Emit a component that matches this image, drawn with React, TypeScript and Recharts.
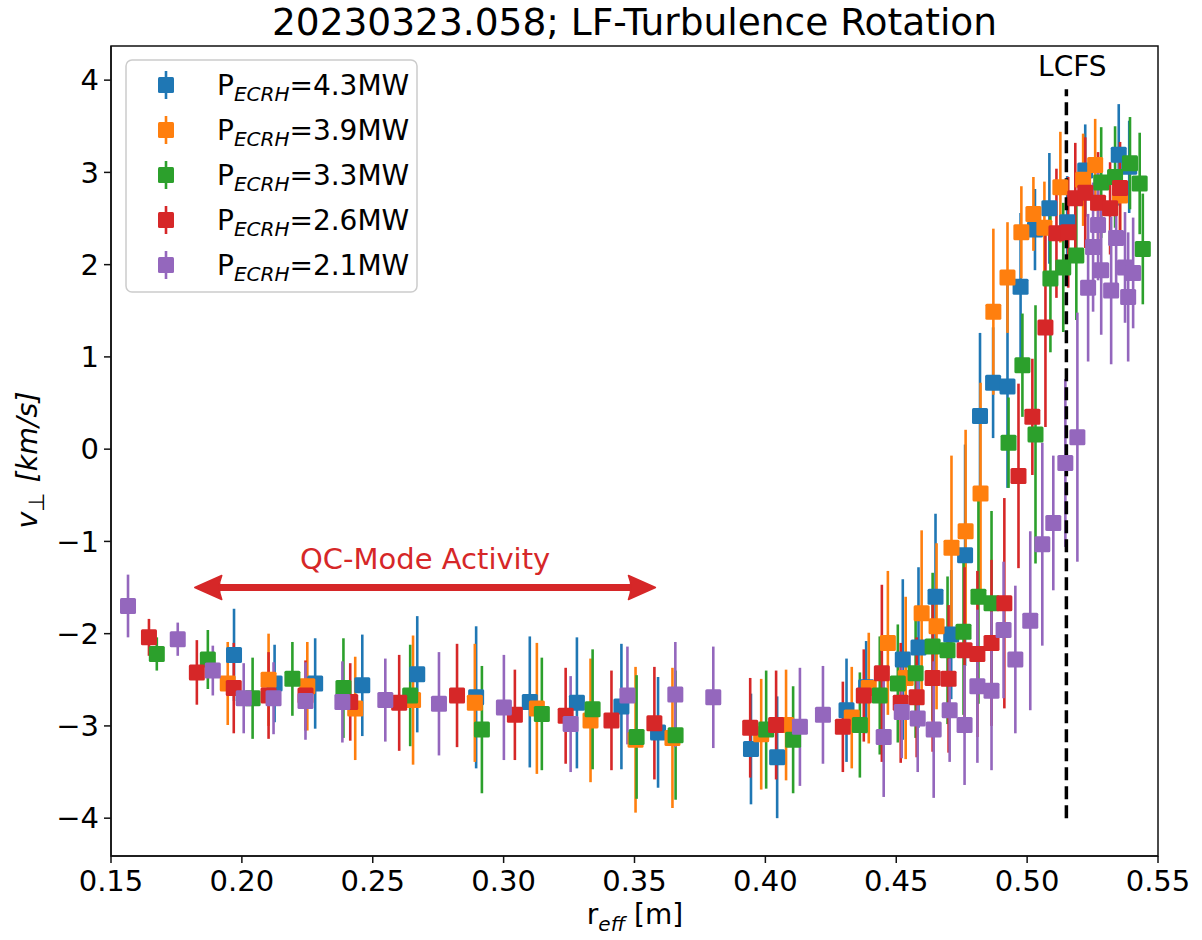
import React from 'react';
import { ScatterChart, Scatter, XAxis, YAxis, ErrorBar, ReferenceLine, ReferenceArea } from 'recharts';

const FONT = "'DejaVu Sans', sans-serif";

// ---- data (r_eff [m], v_perp [km/s], error [km/s]) ----
const blueX = [0.197, 0.2125, 0.228, 0.246, 0.267, 0.2895, 0.31, 0.328, 0.345, 0.359, 0.3945, 0.4045, 0.431, 0.4385, 0.4525, 0.4585, 0.465, 0.471, 0.4763, 0.482, 0.487, 0.4925, 0.4975, 0.503, 0.5085, 0.5153, 0.5222, 0.535, 0.539];
const blueY = [-2.23, -2.54, -2.54, -2.56, -2.44, -2.69, -2.74, -2.75, -2.79, -3.07, -3.25, -3.34, -2.83, -2.58, -2.28, -2.15, -1.6, -2.01, -1.15, 0.36, 0.72, 0.68, 1.76, 2.38, 2.61, 2.46, 3.02, 3.19, 3.06];
const blueE = [0.5, 0.42, 0.49, 0.55, 0.63, 0.77, 0.71, 0.71, 0.68, 0.6, 0.6, 0.66, 0.56, 0.5, 0.87, 0.87, 0.9, 0.7, 1.2, 0.9, 0.6, 1.1, 0.8, 0.44, 0.6, 0.5, 0.5, 0.55, 0.5];

const orangeX = [0.1946, 0.2102, 0.225, 0.2433, 0.2654, 0.289, 0.3127, 0.3332, 0.3504, 0.3645, 0.3984, 0.4079, 0.433, 0.4395, 0.4468, 0.4536, 0.4597, 0.4654, 0.4711, 0.4765, 0.4822, 0.4871, 0.4925, 0.4978, 0.5024, 0.5066, 0.5127, 0.5214, 0.526, 0.5355];
const orangeY = [-2.54, -2.5, -2.57, -2.81, -2.72, -2.75, -2.81, -2.94, -3.15, -3.13, -3.09, -2.99, -2.91, -2.59, -2.1, -2.48, -1.78, -1.92, -1.07, -0.89, -0.48, 1.49, 1.86, 2.35, 2.55, 2.4, 2.84, 2.92, 3.08, 2.75];
const orangeE = [0.45, 0.5, 0.48, 0.56, 0.7, 0.64, 0.71, 0.67, 0.79, 0.76, 0.6, 0.6, 0.55, 0.6, 0.78, 0.88, 0.9, 0.9, 1.0, 1.1, 1.2, 0.9, 0.6, 0.5, 0.4, 0.5, 0.6, 0.5, 0.5, 0.5];

const greenX = [0.1675, 0.187, 0.2041, 0.2193, 0.2388, 0.2643, 0.2917, 0.3146, 0.334, 0.3508, 0.3657, 0.4003, 0.4106, 0.4361, 0.4437, 0.4506, 0.4574, 0.4639, 0.4696, 0.4757, 0.4814, 0.4864, 0.4929, 0.4982, 0.5032, 0.5089, 0.5138, 0.5188, 0.5283, 0.5336, 0.5393, 0.543, 0.5442];
const greenY = [-2.22, -2.28, -2.7, -2.49, -2.59, -2.67, -3.04, -2.87, -2.82, -3.12, -3.1, -3.04, -3.15, -2.99, -2.67, -2.54, -2.43, -2.14, -2.18, -1.98, -1.6, -1.67, 0.07, 0.91, 0.16, 1.85, 1.97, 2.1, 2.89, 2.95, 3.1, 2.88, 2.17];
const greenE = [0.18, 0.32, 0.44, 0.4, 0.54, 0.55, 0.69, 0.61, 0.65, 0.67, 0.7, 0.64, 0.58, 0.57, 0.64, 0.64, 0.7, 0.8, 0.8, 0.9, 1.16, 1.0, 0.49, 0.56, 1.4, 0.8, 0.7, 0.7, 0.6, 0.55, 0.5, 0.55, 0.6];

const redX = [0.1645, 0.1828, 0.1969, 0.2102, 0.2243, 0.2414, 0.2601, 0.2822, 0.3043, 0.3237, 0.3412, 0.3576, 0.3942, 0.4041, 0.4296, 0.4376, 0.4445, 0.4517, 0.4578, 0.4639, 0.47, 0.4761, 0.481, 0.4864, 0.4913, 0.4967, 0.502, 0.507, 0.5112, 0.5157, 0.5184, 0.5222, 0.5271, 0.5317, 0.5355];
const redY = [-2.04, -2.42, -2.59, -2.67, -2.67, -2.74, -2.75, -2.67, -2.88, -2.89, -2.94, -2.97, -3.02, -2.99, -3.01, -2.67, -2.43, -2.75, -2.69, -2.48, -2.49, -2.18, -2.22, -2.1, -1.67, -0.29, 0.35, 1.32, 2.34, 2.35, 2.72, 2.78, 2.67, 2.61, 2.83];
const redE = [0.2, 0.35, 0.49, 0.47, 0.38, 0.42, 0.52, 0.56, 0.49, 0.52, 0.54, 0.61, 0.54, 0.59, 0.49, 0.5, 0.96, 0.65, 0.65, 0.8, 0.8, 0.9, 0.9, 0.9, 1.14, 1.0, 0.63, 1.08, 0.7, 0.6, 0.6, 0.6, 0.55, 0.5, 0.5];

const purpleX = [0.1565, 0.1755, 0.1889, 0.2007, 0.2121, 0.2243, 0.2384, 0.2548, 0.2753, 0.3001, 0.3256, 0.3473, 0.3656, 0.3801, 0.4132, 0.422, 0.4452, 0.4521, 0.4582, 0.4643, 0.4704, 0.4761, 0.481, 0.4864, 0.491, 0.4955, 0.5012, 0.5058, 0.51, 0.5146, 0.5192, 0.5233, 0.5252, 0.5271, 0.5283, 0.5321, 0.534, 0.5374, 0.5386, 0.5405];
const purpleY = [-1.7, -2.06, -2.4, -2.7, -2.7, -2.73, -2.74, -2.72, -2.76, -2.8, -2.98, -2.67, -2.66, -2.69, -3.01, -2.88, -3.12, -2.85, -2.92, -3.04, -2.83, -2.99, -2.57, -2.62, -1.96, -2.28, -1.86, -1.03, -0.8, -0.15, 0.13, 1.75, 2.19, 2.43, 1.94, 1.72, 2.29, 1.97, 1.65, 1.91];
const purpleE = [0.34, 0.18, 0.27, 0.38, 0.39, 0.42, 0.44, 0.45, 0.56, 0.57, 0.52, 0.53, 0.57, 0.55, 0.64, 0.53, 0.65, 0.5, 0.58, 0.74, 0.56, 0.65, 0.83, 0.86, 0.74, 0.8, 0.97, 1.1, 0.73, 0.91, 1.35, 0.8, 0.7, 0.6, 0.7, 0.8, 0.6, 0.6, 0.7, 0.6];

const legendPowers = ['4.3', '3.9', '3.3', '2.6', '2.1'];
const xTicks = [0.15, 0.2, 0.25, 0.3, 0.35, 0.4, 0.45, 0.5, 0.55];
const yTicks = [-4, -3, -2, -1, 0, 1, 2, 3, 4];
const xDomain = [0.15, 0.55];
const yDomain = [-4.41, 4.37];
const lcfsR = 0.515;
const lcfsSpan = [-4, 3.9];
const qcRange = [0.182, 0.358];
const qcLevel = -1.5;

const COLORS = ['#1f77b4', '#ff7f0e', '#2ca02c', '#d62728', '#9467bd'];

const toPts = (xs: number[], ys: number[], es: number[]) => xs.map((x, i) => ({ x, y: ys[i], e: es[i] }));

const SERIES = [
  toPts(blueX, blueY, blueE),
  toPts(orangeX, orangeY, orangeE),
  toPts(greenX, greenY, greenE),
  toPts(redX, redY, redE),
  toPts(purpleX, purpleY, purpleE),
];

const makeSquare = (color: string) => (props: any) => {
  const { cx, cy } = props;
  if (cx == null || cy == null) return <g />;
  return <rect x={cx - 8} y={cy - 8} width={16} height={16} fill={color} rx={1.5} />;
};

const RED = '#d62728';

const ArrowShape = (p: any) => {
  const { x1, y1, x2 } = p;
  const y = y1;
  const left = Math.min(x1, x2);
  const right = Math.max(x1, x2);
  const hl = 27;
  const hw = 12;
  return (
    <g>
      <line x1={left + hl - 6} y1={y} x2={right - hl + 6} y2={y} stroke={RED} strokeWidth={7} />
      <path d={`M${left},${y} L${left + hl},${y - hw} Q${left + hl - 5},${y} ${left + hl},${y + hw} Z`} fill={RED} stroke={RED} strokeWidth={1.5} strokeLinejoin="round" />
      <path d={`M${right},${y} L${right - hl},${y - hw} Q${right - hl + 5},${y} ${right - hl},${y + hw} Z`} fill={RED} stroke={RED} strokeWidth={1.5} strokeLinejoin="round" />
      <text x={(left + right) / 2} y={y - 19} textAnchor="middle" fontSize={29} fontFamily={FONT} fill={RED}>QC-Mode Activity</text>
    </g>
  );
};

const LcfsShape = (p: any) => {
  const { x1, y1, x2, y2 } = p;
  const top = Math.min(y1, y2);
  const bottom = Math.max(y1, y2);
  return (
    <g>
      <line x1={x1} y1={bottom} x2={x2} y2={top} stroke="#000" strokeWidth={3.5} strokeDasharray="13 6" />
      <text x={x1 + 6} y={top - 13} textAnchor="middle" fontSize={28} fontFamily={FONT} fill="#000">LCFS</text>
    </g>
  );
};

const yFmt = (v: number) => (v < 0 ? '\u2212' + Math.abs(v) : String(v));

const tickStyle = { fontSize: 29, fill: '#000', fontFamily: FONT };

export default function App() {
  return (
    <div style={{ position: 'absolute', left: 0, top: 0, width: 1202, height: 940, background: '#fff' }}>
      <ScatterChart width={1202} height={940} margin={{ top: 46, right: 44, bottom: 24, left: 21 }}>
        <XAxis
          dataKey="x"
          type="number"
          domain={xDomain}
          ticks={xTicks}
          interval={0}
          allowDataOverflow
          tickFormatter={(v: number) => v.toFixed(2)}
          tick={tickStyle}
          tickSize={7}
          tickMargin={7}
          height={60}
          stroke="#111"
          strokeWidth={1.5}
        />
        <YAxis
          dataKey="y"
          type="number"
          domain={yDomain}
          ticks={yTicks}
          interval={0}
          allowDataOverflow
          tickFormatter={yFmt}
          tick={tickStyle}
          tickSize={7}
          tickMargin={5}
          width={90}
          stroke="#111"
          strokeWidth={1.5}
        />
        <ReferenceArea
          x1={xDomain[0]}
          x2={xDomain[1]}
          y1={yDomain[0]}
          y2={yDomain[1]}
          fill="none"
          fillOpacity={0}
          stroke="#111"
          strokeWidth={1.5}
          ifOverflow="visible"
        />
        {SERIES.map((data, i) => (
          <Scatter key={i} data={data} dataKey="y" fill={COLORS[i]} shape={makeSquare(COLORS[i])} isAnimationActive={false}>
            <ErrorBar dataKey="e" direction="y" width={0} stroke={COLORS[i]} strokeWidth={2.6} isAnimationActive={false} />
          </Scatter>
        ))}
        <ReferenceLine
          segment={[{ x: qcRange[0], y: qcLevel }, { x: qcRange[1], y: qcLevel }]}
          shape={ArrowShape}
          ifOverflow="visible"
        />
        <ReferenceLine
          segment={[{ x: lcfsR, y: lcfsSpan[0] }, { x: lcfsR, y: lcfsSpan[1] }]}
          shape={LcfsShape}
          ifOverflow="visible"
        />
      </ScatterChart>
      <svg width={1202} height={940} style={{ position: 'absolute', left: 0, top: 0, pointerEvents: 'none' }}>
        <text x={634.5} y={35} textAnchor="middle" fontSize={37.5} fontFamily={FONT} fill="#000">20230323.058; LF-Turbulence Rotation</text>
        <text x={635} y={924} textAnchor="middle" fontSize={28} fontFamily={FONT} fill="#000">
          r<tspan fontSize={20} fontStyle="italic" dy={7}>eff</tspan>
          <tspan dy={-7}> [m]</tspan>
        </text>
        <text transform="translate(37,460) rotate(-90)" textAnchor="middle" fontSize={28.5} fontFamily={FONT} fill="#000">
          <tspan fontStyle="italic">v</tspan>
          <tspan fontSize={22} dy={7}>⊥</tspan>
          <tspan dy={-7} dx={10} fontStyle="italic">[km/s]</tspan>
        </text>
        <rect x={126} y={60} width={291} height={232} rx={6} fill="#fff" fillOpacity={0.8} stroke="#cccccc" strokeWidth={1.5} />
        {legendPowers.map((p, i) => {
          const cy = 85 + i * 45;
          return (
            <g key={p}>
              <line x1={166} y1={cy - 14} x2={166} y2={cy + 14} stroke={COLORS[i]} strokeWidth={2.6} />
              <rect x={158} y={cy - 8} width={16} height={16} fill={COLORS[i]} rx={1.5} />
              <text x={217} y={cy + 10} fontSize={28} fontFamily={FONT} fill="#000">
                P<tspan fontSize={20} fontStyle="italic" dy={6}>ECRH</tspan>
                <tspan dy={-6}>={p}MW</tspan>
              </text>
            </g>
          );
        })}
      </svg>
    </div>
  );
}
